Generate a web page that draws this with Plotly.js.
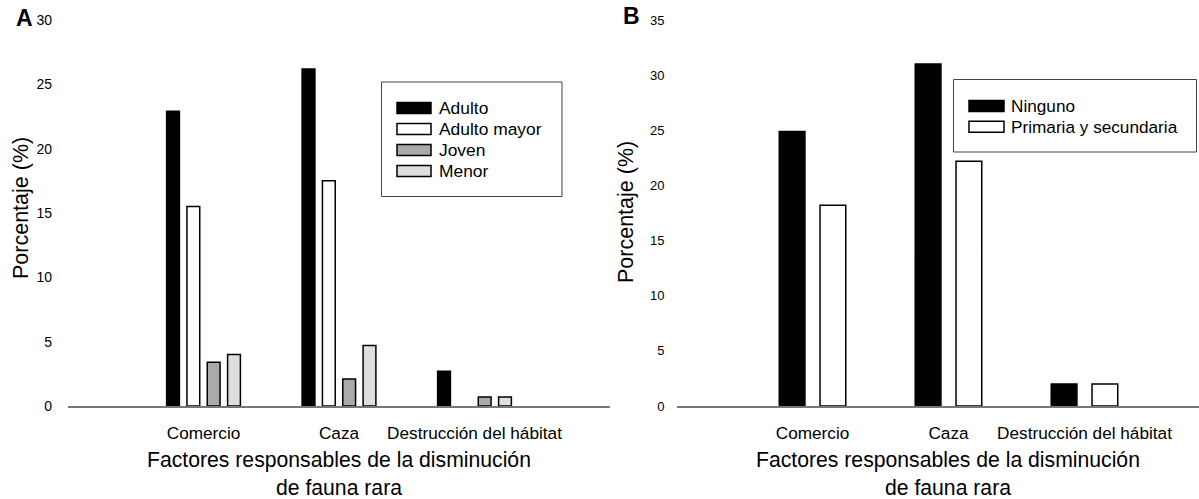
<!DOCTYPE html>
<html>
<head>
<meta charset="utf-8">
<script src="https://cdn.plot.ly/plotly-3.0.1.min.js"></script>
<style>
html,body{margin:0;padding:0;background:#fff;overflow:hidden;}
#chart{width:1199px;height:499px;}
</style>
</head>
<body>
<div id="chart"></div>
<script>
// ---- data ----
const categories = ['Comercio', 'Caza', 'Destrucción del hábitat'];

const seriesA = ['Adulto', 'Adulto mayor', 'Joven', 'Menor'];
const adulto = [22.9, 26.2, 2.7];
const adultoMayor = [15.5, 17.5, null];
const joven = [3.4, 2.1, 0.7];
const menor = [4.0, 4.7, 0.7];

const seriesB = ['Ninguno', 'Primaria y secundaria'];
const ninguno = [24.9, 31.0, 2.0];
const primaria = [18.2, 22.2, 2.0];

const yTicksA = [0, 5, 10, 15, 20, 25, 30];
const yTicksB = [0, 5, 10, 15, 20, 25, 30, 35];

const panelLetters = ['A', 'B'];
const yTitle = 'Porcentaje (%)';
const xTitle = 'Factores responsables de la disminución<br>de fauna rara';

// ---- styling / layout helpers ----
const W = 1199, H = 499;
const px = x => x / W;
const py = y => (H - y) / H;
const FONT = '"Liberation Sans", Arial, sans-serif';
const fillsA = ['#000000', '#ffffff', '#aaaaaa', '#dedede'];
const fillsB = ['#000000', '#ffffff'];
const valsA = [adulto, adultoMayor, joven, menor];
const valsB = [ninguno, primaria];

const traces = [];
seriesA.forEach((name, i) => {
  traces.push({
    type: 'bar', x: categories, y: valsA[i], name: name,
    xaxis: 'x', yaxis: 'y', showlegend: false,
    marker: {color: fillsA[i], line: {color: '#000', width: 1.5}},
    hoverinfo: 'x+y+name'
  });
});
seriesB.forEach((name, i) => {
  traces.push({
    type: 'bar', x: categories, y: valsB[i], name: name,
    xaxis: 'x2', yaxis: 'y2', showlegend: false,
    marker: {color: fillsB[i], line: {color: '#000', width: 1.5}},
    hoverinfo: 'x+y+name'
  });
});

const yaxisCommon = {
  showline: false, showgrid: false, zeroline: false, ticks: '',
  tickmode: 'array', ticklabelstandoff: 15,
  tickfont: {family: FONT, size: 14, color: '#000'},
  domain: [py(406), py(20)], fixedrange: true
};
const xaxisCommon = {
  type: 'category', showline: true, linecolor: '#777', linewidth: 1.5,
  showgrid: false, zeroline: false, ticks: '', ticklabelstandoff: 11,
  tickfont: {family: FONT, size: 17.2, color: '#000'}, fixedrange: true
};

const shapes = [];
const annotations = [];

function legend(names, fills, box, sw, rows, textX, fs) {
  shapes.push({type: 'rect', xref: 'paper', yref: 'paper',
    x0: px(box[0]), x1: px(box[1]), y0: py(box[3]), y1: py(box[2]),
    line: {color: '#444', width: 1}, fillcolor: 'rgba(0,0,0,0)'});
  names.forEach((n, i) => {
    const cy = rows[i];
    shapes.push({type: 'rect', xref: 'paper', yref: 'paper',
      x0: px(sw[0]), x1: px(sw[1]), y0: py(cy + 5.5), y1: py(cy - 5.5),
      line: {color: '#000', width: 1.5}, fillcolor: fills[i]});
    annotations.push({xref: 'paper', yref: 'paper', x: px(textX), y: py(cy),
      xanchor: 'left', yanchor: 'middle', showarrow: false, text: n,
      font: {family: FONT, size: fs, color: '#000'}});
  });
}
legend(seriesA, fillsA, [381.5, 562, 82, 196.5], [397, 431], [108, 129, 150, 171], 437, 17.4);
legend(seriesB, fillsB, [953.5, 1196.5, 79.5, 152], [969, 1004], [106, 126.7], 1009, 17.2);

// panel letters
annotations.push({xref: 'paper', yref: 'paper', x: px(24.5), y: py(18), xanchor: 'center', yanchor: 'middle',
  showarrow: false, text: '<b>' + panelLetters[0] + '</b>', font: {family: FONT, size: 23, color: '#000'}});
annotations.push({xref: 'paper', yref: 'paper', x: px(631), y: py(16), xanchor: 'center', yanchor: 'middle',
  showarrow: false, text: '<b>' + panelLetters[1] + '</b>', font: {family: FONT, size: 23, color: '#000'}});

// y titles
annotations.push({xref: 'paper', yref: 'paper', x: px(21), y: py(208), xanchor: 'center', yanchor: 'middle',
  textangle: -90, showarrow: false, text: yTitle, font: {family: FONT, size: 21.5, color: '#000'}});
annotations.push({xref: 'paper', yref: 'paper', x: px(626), y: py(212), xanchor: 'center', yanchor: 'middle',
  textangle: -90, showarrow: false, text: yTitle, font: {family: FONT, size: 21.5, color: '#000'}});

// x titles (centred under the middle category)
annotations.push({xref: 'x', yref: 'paper', x: categories[1], y: py(473), xanchor: 'center', yanchor: 'middle',
  showarrow: false, text: xTitle, font: {family: FONT, size: 21.2, color: '#000'}});
annotations.push({xref: 'x2', yref: 'paper', x: categories[1], y: py(473), xanchor: 'center', yanchor: 'middle',
  showarrow: false, text: xTitle, font: {family: FONT, size: 21.2, color: '#000'}});

const layout = {
  width: W, height: H,
  margin: {l: 0, r: 0, t: 0, b: 0, pad: 0},
  paper_bgcolor: '#fff', plot_bgcolor: '#fff',
  barmode: 'group', bargap: 0.4, bargroupgap: 0.37,
  showlegend: false,
  font: {family: FONT, color: '#000'},
  xaxis: Object.assign({}, xaxisCommon, {domain: [px(68), px(610)], range: [-1, 3], anchor: 'y'}),
  xaxis2: Object.assign({}, xaxisCommon, {domain: [px(676.5), 1], range: [-1, 2.842], anchor: 'y2'}),
  yaxis: Object.assign({}, yaxisCommon, {range: [0, 30], tickvals: yTicksA, anchor: 'x'}),
  yaxis2: Object.assign({}, yaxisCommon, {range: [0, 35], tickvals: yTicksB, anchor: 'x2', ticklabelstandoff: 11,
    tickfont: {family: FONT, size: 13, color: '#000'}}),
  shapes: shapes,
  annotations: annotations
};

Plotly.newPlot('chart', traces, layout, {displayModeBar: false, staticPlot: true});
</script>
</body>
</html>
